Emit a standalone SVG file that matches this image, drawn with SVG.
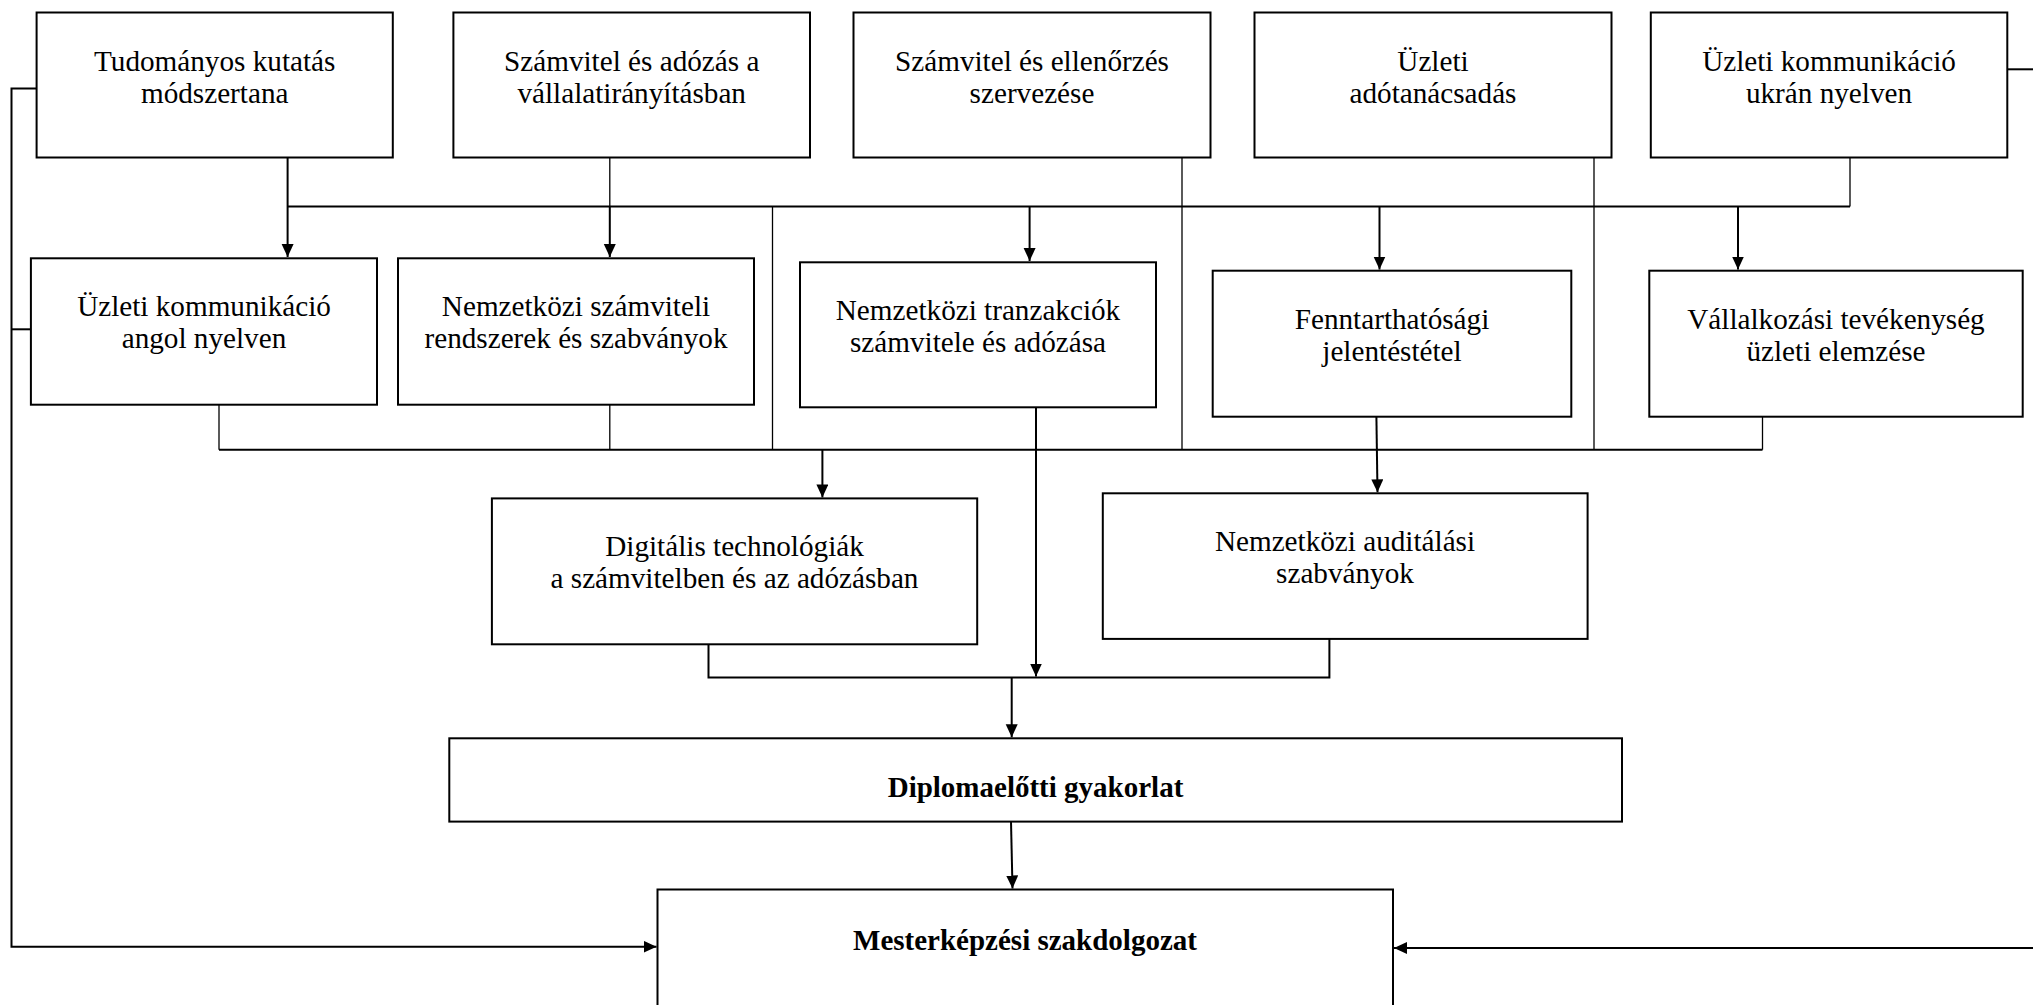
<svg xmlns="http://www.w3.org/2000/svg" width="2033" height="1005" viewBox="0 0 2033 1005">
<style>
.box{fill:#fff;stroke:#000;stroke-width:2}
.t{font-family:"Liberation Serif","Times New Roman",serif;font-size:29.2px;fill:#000;text-anchor:middle}
.b{font-family:"Liberation Serif","Times New Roman",serif;font-size:29px;font-weight:bold;fill:#000;text-anchor:middle}
.c{fill:none;stroke:#000;stroke-width:2}
.n{fill:none;stroke:#000;stroke-width:1.3}
</style>
<defs>
<marker id="ah" markerUnits="userSpaceOnUse" markerWidth="14" markerHeight="13" refX="13" refY="6" orient="auto">
<path d="M0,0 L13,6 L0,12 z" fill="#000"/>
</marker>
</defs>
<rect width="2033" height="1005" fill="#fff"/>
<g id="connectors">
<path class="c" d="M287.6,206.5 H1850"/>
<path class="n" d="M609.8,157.5 V206.5"/>
<path class="c" d="M609.8,206.5 V257" marker-end="url(#ah)"/>
<path class="c" d="M287.6,157.5 V257" marker-end="url(#ah)"/>
<path class="n" d="M1182,157.5 V449.7"/>
<path class="n" d="M1594,157.5 V449.7"/>
<path class="n" d="M1850,157.5 V206.5"/>
<path class="c" d="M1029.6,206.5 V261" marker-end="url(#ah)"/>
<path class="c" d="M1379.5,206.5 V269.5" marker-end="url(#ah)"/>
<path class="c" d="M1738,206.5 V269.5" marker-end="url(#ah)"/>
<path class="n" d="M772.5,206.5 V449.7"/>
<path class="c" d="M219,449.7 H1762.5"/>
<path class="n" d="M219,404.7 V449.7"/>
<path class="n" d="M609.8,404.7 V449.7"/>
<path class="n" d="M1762.5,416.7 V449.7"/>
<path class="c" d="M1036,407.3 V676.5" marker-end="url(#ah)"/>
<path class="c" d="M1376.4,416.7 L1377.5,492.3" marker-end="url(#ah)"/>
<path class="c" d="M822.4,449.7 V497.4" marker-end="url(#ah)"/>
<path class="c" d="M708.5,644.3 V677.5 H1329.4 V638.9"/>
<path class="c" d="M1011.7,677.5 V737.3" marker-end="url(#ah)"/>
<path class="c" d="M1011,821.6 L1012.5,888.5" marker-end="url(#ah)"/>
<path class="c" d="M36.6,88.5 H11.5 V946.7 H656.5" marker-end="url(#ah)"/>
<path class="c" d="M11.5,329.3 H30.9"/>
<path class="c" d="M2008,69.3 H2033"/>
<path class="c" d="M2034,948 H1394" marker-end="url(#ah)"/>
</g>
<g id="n1"><rect class="box" x="36.6" y="12.5" width="356.2" height="145"/><text class="t" x="214.7" y="70.5">Tudományos kutatás</text><text class="t" x="214.7" y="102.5">módszertana</text></g>
<g id="n2"><rect class="box" x="453.4" y="12.5" width="356.6" height="145"/><text class="t" x="631.7" y="70.5">Számvitel és adózás a</text><text class="t" x="631.7" y="102.5">vállalatirányításban</text></g>
<g id="n3"><rect class="box" x="853.5" y="12.5" width="357" height="145"/><text class="t" x="1032" y="70.5">Számvitel és ellenőrzés</text><text class="t" x="1032" y="102.5">szervezése</text></g>
<g id="n4"><rect class="box" x="1254.5" y="12.5" width="357" height="145"/><text class="t" x="1433" y="70.5">Üzleti</text><text class="t" x="1433" y="102.5">adótanácsadás</text></g>
<g id="n5"><rect class="box" x="1650.8" y="12.5" width="356.5" height="145"/><text class="t" x="1829" y="70.5">Üzleti kommunikáció</text><text class="t" x="1829" y="102.5">ukrán nyelven</text></g>
<g id="n6"><rect class="box" x="30.9" y="258.3" width="346.1" height="146.4"/><text class="t" x="204" y="316.3">Üzleti kommunikáció</text><text class="t" x="204" y="348.3">angol nyelven</text></g>
<g id="n7"><rect class="box" x="398" y="258.3" width="356" height="146.4"/><text class="t" x="576" y="316.3">Nemzetközi számviteli</text><text class="t" x="576" y="348.3">rendszerek és szabványok</text></g>
<g id="n8"><rect class="box" x="800" y="262.3" width="356" height="145"/><text class="t" x="978" y="320.3">Nemzetközi tranzakciók</text><text class="t" x="978" y="352.3">számvitele és adózása</text></g>
<g id="n9"><rect class="box" x="1212.7" y="270.7" width="358.6" height="146"/><text class="t" x="1392" y="328.7">Fenntarthatósági</text><text class="t" x="1392" y="360.7">jelentéstétel</text></g>
<g id="n10"><rect class="box" x="1649.3" y="270.7" width="373.4" height="146"/><text class="t" x="1836" y="328.7">Vállalkozási tevékenység</text><text class="t" x="1836" y="360.7">üzleti elemzése</text></g>
<g id="n11"><rect class="box" x="491.9" y="498.4" width="485.3" height="145.9"/><text class="t" x="734.5" y="556.4">Digitális technológiák</text><text class="t" x="734.5" y="588.4">a számvitelben és az adózásban</text></g>
<g id="n12"><rect class="box" x="1102.8" y="493.3" width="484.8" height="145.6"/><text class="t" x="1345" y="551.3">Nemzetközi auditálási</text><text class="t" x="1345" y="583.3">szabványok</text></g>
<g id="n13"><rect class="box" x="449.3" y="738.3" width="1172.7" height="83.3"/><text class="b" x="1035.5" y="797">Diplomaelőtti gyakorlat</text></g>
<g id="n14"><rect class="box" x="657.5" y="889.5" width="735.5" height="130"/><text class="b" x="1025" y="950">Mesterképzési szakdolgozat</text></g>
</svg>
